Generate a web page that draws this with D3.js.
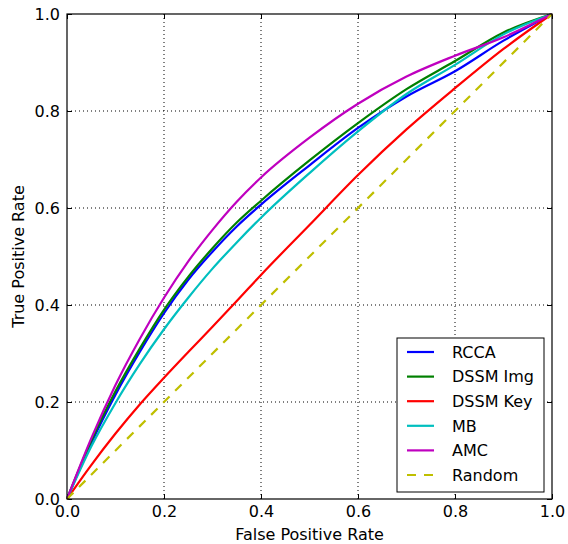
<!doctype html>
<html>
    <head>
        <title>ROC curves</title>
    </head>
    <script src="https://cdnjs.cloudflare.com/ajax/libs/d3/7.8.5/d3.min.js"></script>
    <style>
        html, body {
            width: 100%;
            height: 100%;
            margin: 0px;
            padding: 0px;
            background: #fff;
        }
        text {
            font-family: 'DejaVu Sans', sans-serif;
            font-size: 16px;
        }
    </style>
    <body>
        <svg class="svg" width="568" height="544"></svg>
    </body>
    <script>
        // values
        var ticks = [0, 0.2, 0.4, 0.6, 0.8, 1.0];
        var tickLabels = ['0.0', '0.2', '0.4', '0.6', '0.8', '1.0'];

        var fpr = [0, 0.05, 0.1, 0.15, 0.2, 0.25, 0.3, 0.35, 0.4, 0.5, 0.6, 0.7, 0.8, 0.9, 1];

        var rccaY = [0, 0.115, 0.215, 0.303, 0.383, 0.452, 0.51, 0.562, 0.607, 0.688, 0.765, 0.83, 0.882, 0.945, 1];
        var imgY = [0, 0.12, 0.222, 0.31, 0.39, 0.458, 0.517, 0.57, 0.615, 0.698, 0.775, 0.845, 0.903, 0.962, 1];
        var keyY = [0, 0.07, 0.135, 0.195, 0.25, 0.303, 0.355, 0.408, 0.462, 0.565, 0.668, 0.762, 0.847, 0.928, 1];
        var mbY = [0, 0.108, 0.198, 0.278, 0.35, 0.415, 0.475, 0.529, 0.58, 0.672, 0.758, 0.835, 0.895, 0.958, 1];
        var amcY = [0, 0.125, 0.235, 0.33, 0.415, 0.49, 0.555, 0.613, 0.663, 0.745, 0.815, 0.871, 0.914, 0.952, 1];

        var randX = [0, 1];
        var randY = [0, 1];

        var names = ['RCCA', 'DSSM Img', 'DSSM Key', 'MB', 'AMC', 'Random'];
        var colors = ['#0000ff', '#008000', '#ff0000', '#00bfbf', '#bf00bf', '#bfbf00'];
        var xs = [fpr, fpr, fpr, fpr, fpr, randX];
        var ys = [rccaY, imgY, keyY, mbY, amcY, randY];

        var svg = d3.select('svg');
        var margin = {left: 67, right: 16, top: 14, bottom: 45};
        var width = 568 - margin.left - margin.right;
        var height = 544 - margin.top - margin.bottom;

        var g = svg.append('g')
            .attr('transform', 'translate(' + margin.left + ', ' + margin.top + ')');

        var xScale = d3.scaleLinear().domain([0, 1]).range([0, width]);
        var yScale = d3.scaleLinear().domain([0, 1]).range([height, 0]);

        // dotted grid
        var inner = [0.2, 0.4, 0.6, 0.8];
        g.append('g').selectAll('line.gx').data(inner).enter().append('line')
            .attr('x1', function(d) { return xScale(d); })
            .attr('x2', function(d) { return xScale(d); })
            .attr('y1', 0).attr('y2', height)
            .attr('stroke', '#000').attr('stroke-width', 1)
            .attr('stroke-dasharray', '1,3');
        g.append('g').selectAll('line.gy').data(inner).enter().append('line')
            .attr('y1', function(d) { return yScale(d); })
            .attr('y2', function(d) { return yScale(d); })
            .attr('x1', 0).attr('x2', width)
            .attr('stroke', '#000').attr('stroke-width', 1)
            .attr('stroke-dasharray', '1,3');

        // axes, ticks pointing inward on all sides
        var fmt = function(d, i) { return tickLabels[i]; };
        var xAxis = g.append('g').attr('transform', 'translate(0,' + height + ')')
            .call(d3.axisBottom(xScale).tickValues(ticks).tickFormat(fmt).tickSizeInner(-5).tickSizeOuter(0).tickPadding(10));
        var yAxis = g.append('g')
            .call(d3.axisLeft(yScale).tickValues(ticks).tickFormat(fmt).tickSizeInner(-5).tickSizeOuter(0).tickPadding(10));
        var topAxis = g.append('g')
            .call(d3.axisTop(xScale).tickValues(ticks).tickFormat('').tickSizeInner(-5).tickSizeOuter(0));
        var rightAxis = g.append('g').attr('transform', 'translate(' + width + ',0)')
            .call(d3.axisRight(yScale).tickValues(ticks).tickFormat('').tickSizeInner(-5).tickSizeOuter(0));
        [xAxis, yAxis, topAxis, rightAxis].forEach(function(a) {
            a.selectAll('text').attr('font-size', 16).attr('font-family', 'DejaVu Sans').attr('fill', '#000');
            a.selectAll('line').attr('stroke', '#000');
            a.select('.domain').remove();
        });
        xAxis.selectAll('text').attr('dy', '0.71em').attr('y', 7);
        yAxis.selectAll('text').attr('x', -7);

        // curves
        var line = d3.line()
            .x(function(d) { return xScale(d[0]); })
            .y(function(d) { return yScale(d[1]); })
            .curve(d3.curveMonotoneX);

        names.forEach(function(name, k) {
            var pts = xs[k].map(function(x, i) { return [x, ys[k][i]]; });
            g.append('path')
                .datum(pts)
                .attr('fill', 'none')
                .attr('stroke', colors[k])
                .attr('stroke-width', 2.2)
                .attr('stroke-dasharray', name == 'Random' ? '9,8' : null)
                .attr('d', line);
        });

        // frame
        g.append('rect')
            .attr('width', width).attr('height', height)
            .attr('fill', 'none').attr('stroke', '#000').attr('stroke-width', 1.2);

        // axis labels
        g.append('text')
            .attr('x', width / 2).attr('y', height + 41)
            .attr('text-anchor', 'middle')
            .text('False Positive Rate');
        g.append('text')
            .attr('transform', 'translate(' + (-43) + ',' + (height / 2) + ') rotate(-90)')
            .attr('text-anchor', 'middle')
            .text('True Positive Rate');

        // legend
        var legend = g.append('g').attr('transform', 'translate(' + (397 - margin.left) + ',' + (338 - margin.top) + ')');
        legend.append('rect')
            .attr('width', 147).attr('height', 154)
            .attr('fill', '#fff').attr('stroke', '#000').attr('stroke-width', 1);
        names.forEach(function(name, k) {
            var yy = 14 + k * 24.6;
            legend.append('line')
                .attr('x1', 10).attr('x2', 37)
                .attr('y1', yy).attr('y2', yy)
                .attr('stroke', colors[k]).attr('stroke-width', 2.2)
                .attr('stroke-dasharray', name == 'Random' ? '9,8' : null);
            legend.append('text')
                .attr('x', 55).attr('y', yy)
                .attr('dy', '0.36em')
                .text(name);
        });
    </script>
</html>
